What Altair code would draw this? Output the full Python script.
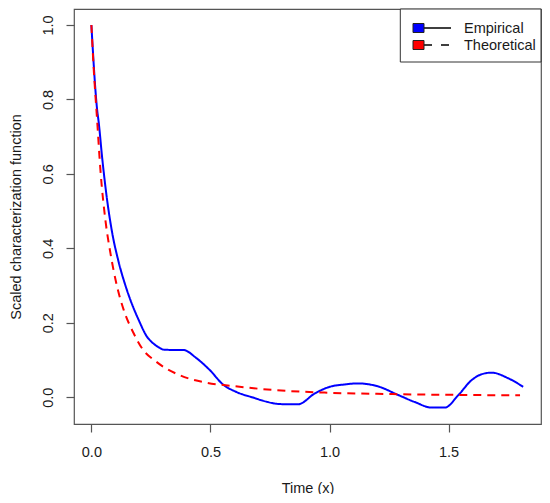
import altair as alt
import pandas as pd

emp_x = [0, 0.024, 0.031, 0.045, 0.066, 0.087, 0.115, 0.143, 0.164, 0.199, 0.234, 0.259, 0.283,
         0.301, 0.34, 0.385, 0.441, 0.497, 0.553, 0.609, 0.679, 0.735, 0.77, 0.82, 0.868, 0.938,
         1.001, 1.06, 1.12, 1.204, 1.288, 1.358, 1.429, 1.484, 1.54, 1.597, 1.64, 1.681, 1.75, 1.813]
emp_y = [1.0, 0.773, 0.737, 0.645, 0.530, 0.443, 0.362, 0.300, 0.261, 0.207, 0.162, 0.145, 0.134,
         0.128, 0.127, 0.127, 0.105, 0.073, 0.034, 0.014, -0.001, -0.012, -0.017, -0.019, -0.019, 0.010,
         0.028, 0.034, 0.037, 0.029, 0.006, -0.013, -0.028, -0.028, 0.005, 0.046, 0.062, 0.066, 0.051, 0.028]

theo_x = [0, 0.01, 0.024, 0.038, 0.059, 0.08, 0.108, 0.136, 0.178, 0.213, 0.273, 0.371, 0.483,
          0.595, 0.77, 0.994, 1.3, 1.80]
theo_y = [1.0, 0.880, 0.745, 0.610, 0.475, 0.387, 0.297, 0.234, 0.171, 0.131, 0.095, 0.059, 0.039,
          0.030, 0.019, 0.012, 0.008, 0.005]

series = ["Empirical", "Theoretical"]
colors = ["#0000FF", "#FF0000"]
dashes = [[1, 0], [8, 6]]
legend_dashes = [[1, 0], [8, 9]]
x_ticks = [0, 0.5, 1.0, 1.5]
y_ticks = [0, 0.2, 0.4, 0.6, 0.8, 1.0]

df = pd.concat([
    pd.DataFrame({"x": emp_x, "y": emp_y, "series": series[0], "order": range(len(emp_x))}),
    pd.DataFrame({"x": theo_x, "y": theo_y, "series": series[1], "order": range(len(theo_x))}),
])

FONT = "Liberation Sans"
FS = 14.5
TXT = "#1a1a1a"

xenc = alt.X("x:Q", scale=alt.Scale(domain=[-0.073, 1.888], nice=False, zero=False),
             axis=alt.Axis(values=x_ticks, format=".1f", title="Time (x)",
                           titleX=233.5, titleY=68, titleBaseline="alphabetic", titleAlign="center",
                           labelPadding=13))
yenc = alt.Y("y:Q", scale=alt.Scale(domain=[-0.072, 1.043], nice=False, zero=False),
             axis=alt.Axis(values=y_ticks, format=".1f", title="Scaled characterization function",
                           titleX=-54, titleY=207.5, titleAngle=270, titleAlign="center",
                           titleBaseline="alphabetic",
                           labelAngle=270, labelAlign="center", labelBaseline="alphabetic",
                           labelPadding=14))

lines = alt.Chart(df).mark_line(strokeWidth=2, interpolate="monotone").encode(
    x=xenc,
    y=yenc,
    color=alt.Color("series:N", scale=alt.Scale(domain=series, range=colors), legend=None),
    strokeDash=alt.StrokeDash("series:N", scale=alt.Scale(domain=series, range=dashes),
                              legend=None),
    order="order:Q",
)

# legend (drawn as a framed key in the top-right corner of the plot box)
leg_df = pd.DataFrame({"series": series})
layers = [lines]
frame = alt.Chart(leg_df).transform_filter("datum.series == 'Empirical'").mark_rect(
    fill="white", stroke="#333333", strokeWidth=1
).encode(x=alt.value(326.3), x2=alt.value(467), y=alt.value(0), y2=alt.value(53))
layers.append(frame)
row_y = [19, 36]
for i, name in enumerate(series):
    sub = alt.Chart(leg_df).transform_filter(f"datum.series == '{name}'")
    ln = sub.mark_rule(color="black", strokeWidth=1.5, strokeDash=legend_dashes[i]).encode(
        x=alt.value(350), x2=alt.value(377), y=alt.value(row_y[i]))
    sq = sub.mark_rect(fill=colors[i], stroke="#222222", strokeWidth=1).encode(
        x=alt.value(339), x2=alt.value(350),
        y=alt.value(row_y[i] - 4.5), y2=alt.value(row_y[i] + 4.5))
    tx = sub.mark_text(align="left", baseline="middle", font=FONT, fontSize=FS, color=TXT).encode(
        x=alt.value(390), y=alt.value(row_y[i] + 0.5), text="series:N")
    layers += [ln, sq, tx]

chart = alt.layer(*layers).properties(
    width=467,
    height=415,
    autosize=alt.AutoSizeParams(type="none"),
    padding={"left": 66, "top": 1, "right": 1, "bottom": 70},
).configure_view(
    stroke="#555555", strokeWidth=1.2
).configure_axis(
    domain=False, grid=False, tickSize=8, tickColor="#555555", tickWidth=1.2,
    labelFont=FONT, labelFontSize=FS, labelColor=TXT,
    titleFont=FONT, titleFontSize=FS, titleColor=TXT, titleFontWeight="normal",
)

chart.save("out.html", embed_options={"renderer": "svg", "actions": False})
